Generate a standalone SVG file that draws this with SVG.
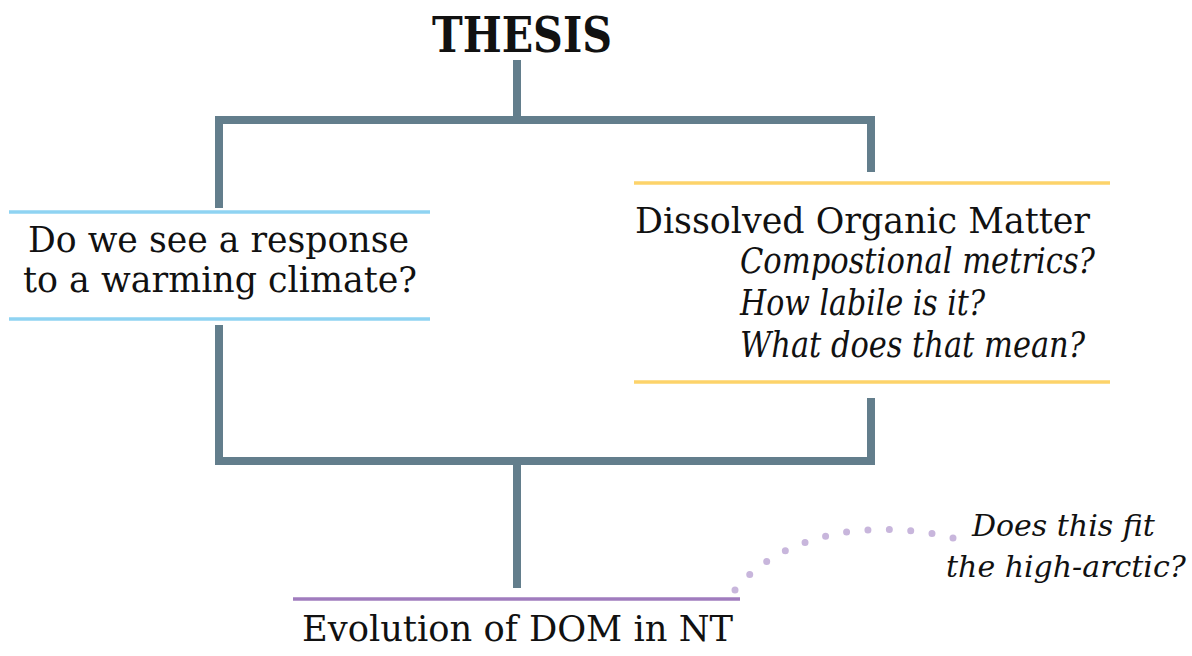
<svg xmlns="http://www.w3.org/2000/svg" width="1192" height="656" viewBox="0 0 1192 656">
<style>
.t{font-family:"DejaVu Serif","Liberation Serif",serif;font-size:35px;fill:#111}
.i{font-style:italic}
.s{font-size:30px}
.b{font-weight:bold;font-size:48px}
.c{fill:none;stroke:#637e8c;stroke-width:8;stroke-linecap:butt}
.blue{stroke:#8fd3f2;stroke-width:3.5}
.yel{stroke:#fdd36a;stroke-width:3.5}
.pur{stroke:#a07cbe;stroke-width:3.5}
.dots{fill:none;stroke:#c8b6dc;stroke-width:7;stroke-linecap:round;stroke-dasharray:0 20}
</style>
<rect width="1192" height="656" fill="#fff"/>
<g id="connectors">
<path class="c" d="M517,60 V120 M215,120 H875 M219,116 V208 M871,116 V172"/>
<path class="c" d="M219,325 V465 M871,398 V465 M215,461 H875 M517,461 V588"/>
<path class="dots" pathLength="220" d="M735,590 C775,540 860,515 953,538"/>
</g>
<g id="thesis"><text class="t b" x="432" y="52" textLength="180" lengthAdjust="spacingAndGlyphs">THESIS</text></g>
<g id="response">
<line class="blue" x1="9" y1="212" x2="430" y2="212"/>
<line class="blue" x1="9" y1="319" x2="430" y2="319"/>
<text class="t" x="28" y="252" textLength="381" lengthAdjust="spacingAndGlyphs">Do we see a response</text>
<text class="t" x="23" y="292" textLength="394" lengthAdjust="spacingAndGlyphs">to a warming climate?</text>
</g>
<g id="dom">
<line class="yel" x1="634" y1="183" x2="1110" y2="183"/>
<line class="yel" x1="634" y1="382" x2="1110" y2="382"/>
<text class="t" x="635" y="233" textLength="455" lengthAdjust="spacingAndGlyphs">Dissolved Organic Matter</text>
<text class="t i" x="740" y="273" textLength="355" lengthAdjust="spacingAndGlyphs">Compostional metrics?</text>
<text class="t i" x="740" y="315" textLength="245" lengthAdjust="spacingAndGlyphs">How labile is it?</text>
<text class="t i" x="740" y="357" textLength="345" lengthAdjust="spacingAndGlyphs">What does that mean?</text>
</g>
<g id="evolution">
<line class="pur" x1="293" y1="599" x2="740" y2="599"/>
<text class="t" x="302" y="641" textLength="431" lengthAdjust="spacingAndGlyphs">Evolution of DOM in NT</text>
</g>
<g id="highArctic">
<text class="t i s" x="972" y="536">Does this fit</text>
<text class="t i s" x="946" y="577">the high-arctic?</text>
</g>
</svg>
